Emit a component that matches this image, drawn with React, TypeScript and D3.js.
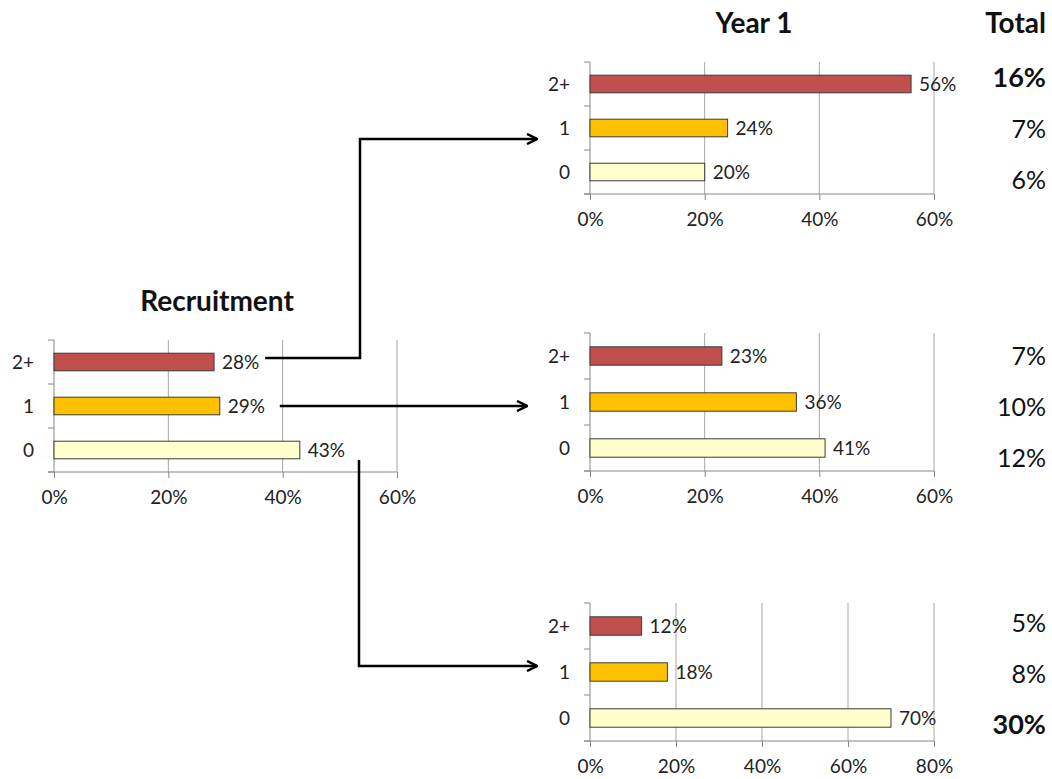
import * as d3 from 'd3';
import { useEffect, useRef } from 'react';

// categories: number of events (2+, 1, 0)
const categories = ['2+', '1', '0'];

// share of participants at recruitment (%)
const recruitmentValues = [28, 29, 43];

// year 1 distribution, by recruitment group (%)
const year1From2 = [56, 24, 20];
const year1From1 = [23, 36, 41];
const year1From0 = [12, 18, 70];

// totals column (%)
const totalsFrom2 = [16, 7, 6];
const totalsFrom1 = [7, 10, 12];
const totalsFrom0 = [5, 8, 30];

// which totals are highlighted in bold
const boldFrom2 = [true, false, false];
const boldFrom1 = [false, false, false];
const boldFrom0 = [false, false, true];

const colors: Record<string, string> = { '2+': '#c0504d', '1': '#ffc000', '0': '#ffffcc' };

const FONT = 'Lato, "Liberation Sans", sans-serif';

export default function App() {
    const ref = useRef<SVGSVGElement | null>(null);

    useEffect(() => {
        if (!ref.current) return;
        const svg = d3.select(ref.current);
        svg.selectAll('*').remove();

        const panels = [
            { values: recruitmentValues, max: 60, left: 54, right: 397, top: 340, bottom: 472 },
            { values: year1From2, max: 60, left: 590, right: 934, top: 62, bottom: 194 },
            { values: year1From1, max: 60, left: 590, right: 934, top: 333, bottom: 471 },
            { values: year1From0, max: 80, left: 590, right: 934, top: 603, bottom: 741 },
        ];

        const scales = panels.map((p) => {
            const g = svg.append('g');
            const x = d3.scaleLinear().domain([0, p.max]).range([p.left, p.right]);
            const y = d3
                .scaleBand<string>()
                .domain(categories)
                .range([p.top, p.bottom])
                .paddingInner(0.6)
                .paddingOuter(0.3);
            const ticks = d3.range(0, p.max + 1, 20);

            // gridlines
            g.append('g')
                .selectAll('line')
                .data(ticks.slice(1))
                .join('line')
                .attr('x1', (d) => x(d))
                .attr('x2', (d) => x(d))
                .attr('y1', p.top)
                .attr('y2', p.bottom)
                .attr('stroke', '#a6a6a6')
                .attr('stroke-width', 1);

            // x axis
            const xAxis = d3
                .axisBottom(x)
                .tickValues(ticks)
                .tickSizeInner(6)
                .tickSizeOuter(0)
                .tickFormat((d) => `${d}%`);
            g.append('g')
                .attr('transform', `translate(0,${p.bottom})`)
                .call(xAxis)
                .call((a) => a.select('.domain').attr('d', `M${p.left - 6},0H${p.right}`).attr('stroke', '#868686'))
                .call((a) => a.selectAll('.tick line').attr('stroke', '#868686'))
                .selectAll('text')
                .attr('font-family', FONT)
                .attr('font-size', 19)
                .attr('fill', '#222')
                .attr('dy', '1.2em');

            // y axis: line plus ticks at band boundaries
            const step = y.step();
            const bounds = d3.range(0, categories.length + 1).map((i) => p.top + i * step);
            g.append('line')
                .attr('x1', p.left)
                .attr('x2', p.left)
                .attr('y1', p.top)
                .attr('y2', p.bottom)
                .attr('stroke', '#868686');
            g.append('g')
                .selectAll('line')
                .data(bounds)
                .join('line')
                .attr('x1', p.left - 6)
                .attr('x2', p.left)
                .attr('y1', (d) => d)
                .attr('y2', (d) => d)
                .attr('stroke', '#868686');
            g.append('g')
                .selectAll('text')
                .data(categories)
                .join('text')
                .attr('x', p.left - 20)
                .attr('y', (d) => y(d)! + y.bandwidth() / 2)
                .attr('dy', '0.35em')
                .attr('text-anchor', 'end')
                .attr('font-family', FONT)
                .attr('font-size', 19)
                .attr('fill', '#222')
                .text((d) => d);

            // bars
            g.append('g')
                .selectAll('rect')
                .data(categories)
                .join('rect')
                .attr('x', x(0))
                .attr('y', (d) => y(d)!)
                .attr('width', (_, i) => x(p.values[i]) - x(0))
                .attr('height', y.bandwidth())
                .attr('fill', (d) => colors[d])
                .attr('stroke', '#3a3a3a')
                .attr('stroke-width', 1);

            // value labels
            g.append('g')
                .selectAll('text')
                .data(categories)
                .join('text')
                .attr('x', (_, i) => x(p.values[i]) + 8)
                .attr('y', (d) => y(d)! + y.bandwidth() / 2)
                .attr('dy', '0.38em')
                .attr('font-family', FONT)
                .attr('font-size', 19)
                .attr('fill', '#222')
                .text((_, i) => `${p.values[i]}%`);

            return { x, y };
        });

        // titles
        const title = (txt: string, x: number, y: number, anchor: string) =>
            svg
                .append('text')
                .attr('x', x)
                .attr('y', y)
                .attr('text-anchor', anchor)
                .attr('font-family', FONT)
                .attr('font-weight', 'bold')
                .attr('font-size', 28)
                .attr('fill', '#111')
                .text(txt);
        title('Recruitment', 217, 311, 'middle');
        title('Year 1', 754, 33, 'middle');
        title('Total', 1046, 33, 'end');

        // totals column
        const totalGroups = [
            { values: totalsFrom2, bold: boldFrom2, start: 87 },
            { values: totalsFrom1, bold: boldFrom1, start: 365 },
            { values: totalsFrom0, bold: boldFrom0, start: 632 },
        ];
        totalGroups.forEach((t) => {
            const ty = d3.scalePoint<string>().domain(categories).range([t.start, t.start + 102]);
            svg.append('g')
                .selectAll('text')
                .data(categories)
                .join('text')
                .attr('x', 1046)
                .attr('y', (d) => ty(d)!)
                .attr('text-anchor', 'end')
                .attr('font-family', FONT)
                .attr('font-size', (_, i) => (t.bold[i] ? 27 : 25))
                .attr('font-weight', (_, i) => (t.bold[i] ? 'bold' : 'normal'))
                .attr('fill', '#111')
                .text((_, i) => `${t.values[i]}%`);
        });

        // connector arrows
        svg.append('defs')
            .append('marker')
            .attr('id', 'chev')
            .attr('viewBox', '0 0 12 12')
            .attr('refX', 11)
            .attr('refY', 6)
            .attr('markerWidth', 12)
            .attr('markerHeight', 12)
            .attr('markerUnits', 'userSpaceOnUse')
            .attr('orient', 'auto')
            .append('path')
            .attr('d', 'M1,1L11,6L1,11')
            .attr('fill', 'none')
            .attr('stroke', '#000')
            .attr('stroke-width', 2.5);

        const rec = scales[0];
        const yMid = (s: { y: d3.ScaleBand<string> }, c: string) => s.y(c)! + s.y.bandwidth() / 2;
        const connectors = [
            `M${rec.x(28) + 51},${yMid(rec, '2+') - 4}H360V139H537`,
            `M${rec.x(29) + 60},${yMid(rec, '1')}H527`,
            `M359,460V666H537`,
        ];
        svg.append('g')
            .selectAll('path')
            .data(connectors)
            .join('path')
            .attr('d', (d) => d)
            .attr('fill', 'none')
            .attr('stroke', '#000')
            .attr('stroke-width', 2.5)
            .attr('marker-end', 'url(#chev)');
    }, []);

    return (
        <svg
            ref={ref}
            width={1052}
            height={779}
            style={{ position: 'absolute', left: 0, top: 0, display: 'block', background: '#fff' }}
        />
    );
}
